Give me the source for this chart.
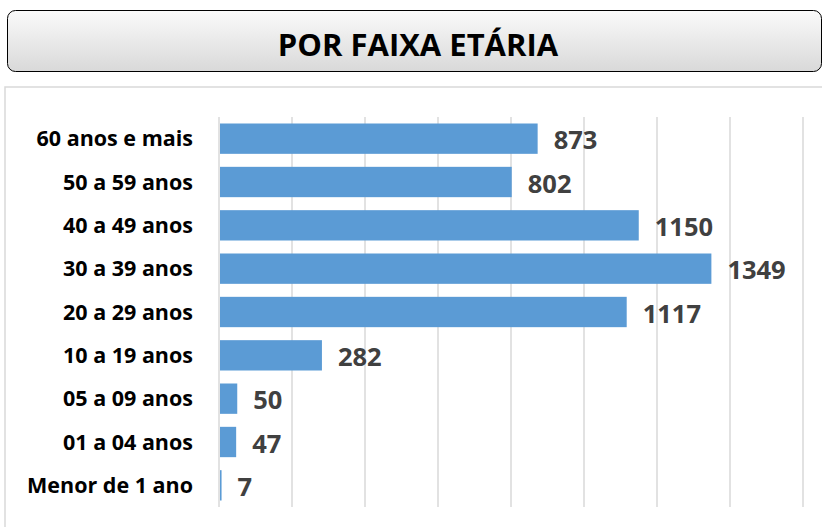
<!DOCTYPE html>
<html>
<head>
<meta charset="utf-8">
<script src="https://cdn.jsdelivr.net/npm/d3@7"></script>
<style>
  html, body { margin: 0; padding: 0; background: #ffffff; }
  svg { display: block; }
</style>
</head>
<body>
<div id="chart"></div>
<script>
"use strict";

const categories = [
  "60 anos e mais",
  "50 a 59 anos",
  "40 a 49 anos",
  "30 a 39 anos",
  "20 a 29 anos",
  "10 a 19 anos",
  "05 a 09 anos",
  "01 a 04 anos",
  "Menor de 1 ano",
];
const values = [873, 802, 1150, 1349, 1117, 282, 50, 47, 7];
const xTicks = [0, 200, 400, 600, 800, 1000, 1200, 1400, 1600];
const title = "POR FAIXA ETÁRIA";

const width = 822;
const height = 527;
const FONT = "'Open Sans', 'DejaVu Sans', sans-serif";

const svg = d3
  .select("#chart")
  .append("svg")
  .attr("width", width)
  .attr("height", height)
  .attr("viewBox", `0 0 ${width} ${height}`);

// title box with grey gradient
const grad = svg
  .append("defs")
  .append("linearGradient")
  .attr("id", "titleGrad")
  .attr("x1", 0)
  .attr("y1", 0)
  .attr("x2", 0)
  .attr("y2", 1);
grad.append("stop").attr("offset", "0%").attr("stop-color", "#fafafa");
grad.append("stop").attr("offset", "100%").attr("stop-color", "#d9d9d9");

svg
  .append("rect")
  .attr("x", 7.5)
  .attr("y", 10.5)
  .attr("width", 814)
  .attr("height", 61)
  .attr("rx", 8)
  .attr("fill", "url(#titleGrad)")
  .attr("stroke", "#000000")
  .attr("stroke-width", 1);

svg
  .append("text")
  .attr("x", 418)
  .attr("y", 56)
  .attr("text-anchor", "middle")
  .attr("font-family", FONT)
  .attr("font-size", 31)
  .attr("font-weight", 700)
  .attr("fill", "#000000")
  .text(title);

// chart area frame
svg
  .append("rect")
  .attr("x", 5)
  .attr("y", 87)
  .attr("width", 830)
  .attr("height", 460)
  .attr("fill", "#ffffff")
  .attr("stroke", "#d9d9d9")
  .attr("stroke-width", 1.5);

const margin = { top: 117, left: 219, right: 19, bottom: 20 };

const x = d3
  .scaleLinear()
  .domain([0, 1600])
  .range([margin.left, width - margin.right]);

const y = d3
  .scaleBand()
  .domain(categories)
  .range([margin.top, height - margin.bottom])
  .paddingInner(0.3)
  .paddingOuter(0.15);

// vertical gridlines
svg
  .append("g")
  .selectAll("line.grid")
  .data(xTicks)
  .join("line")
  .attr("class", "grid")
  .attr("x1", (d) => x(d))
  .attr("x2", (d) => x(d))
  .attr("y1", margin.top)
  .attr("y2", height - margin.bottom)
  .attr("stroke", "#d9d9d9")
  .attr("stroke-width", 1.5);

// bars
svg
  .append("g")
  .selectAll("rect.bar")
  .data(values)
  .join("rect")
  .attr("class", "bar")
  .attr("x", x(0) + 1)
  .attr("y", (d, i) => y(categories[i]))
  .attr("width", (d) => Math.max(1.5, x(d) - x(0) - 1))
  .attr("height", y.bandwidth())
  .attr("fill", "#5b9bd5");

// category labels
svg
  .append("g")
  .selectAll("text.cat")
  .data(categories)
  .join("text")
  .attr("class", "cat")
  .attr("x", 193)
  .attr("y", (d) => y(d) + y.bandwidth() / 2)
  .attr("dy", "0.36em")
  .attr("text-anchor", "end")
  .attr("font-family", FONT)
  .attr("font-size", 21.5)
  .attr("font-weight", 700)
  .attr("fill", "#000000")
  .text((d) => d);

// value labels
svg
  .append("g")
  .selectAll("text.val")
  .data(values)
  .join("text")
  .attr("class", "val")
  .attr("x", (d) => x(d) + 16)
  .attr("y", (d, i) => y(categories[i]) + y.bandwidth() / 2 + 1.5)
  .attr("dy", "0.36em")
  .attr("text-anchor", "start")
  .attr("font-family", FONT)
  .attr("font-size", 25.5)
  .attr("font-weight", 700)
  .attr("fill", "#404040")
  .text((d) => d);
</script>
</body>
</html>
